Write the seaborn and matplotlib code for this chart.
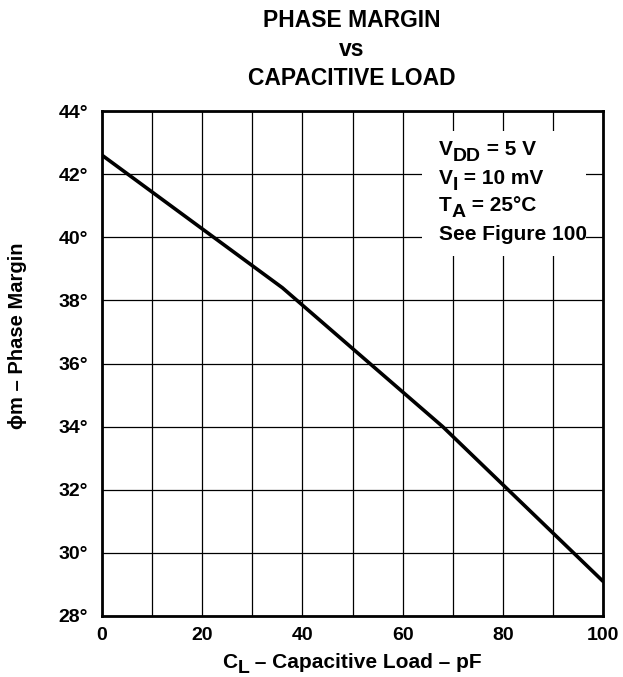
import matplotlib
matplotlib.use("Agg")
import matplotlib.pyplot as plt
from matplotlib.patches import Rectangle
import seaborn as sns
import pandas as pd

# Phase margin vs capacitive load curve (piecewise)
cap_load_pf = [0, 36, 68, 100]
phase_margin_deg = [42.6, 38.4, 34.0, 29.1]

x_ticks = [0, 20, 40, 60, 80, 100]
y_ticks = [28, 30, 32, 34, 36, 38, 40, 42, 44]

title_lines = ["PHASE MARGIN", "vs", "CAPACITIVE LOAD"]

W, H = 623, 677

sns.set_theme(style="white")
plt.rcParams["font.family"] = ["Liberation Sans", "DejaVu Sans"]
plt.rcParams["font.weight"] = "bold"
plt.rcParams["text.color"] = "black"
plt.rcParams["axes.labelcolor"] = "black"
plt.rcParams["xtick.color"] = "black"
plt.rcParams["ytick.color"] = "black"

df = pd.DataFrame({"C_L": cap_load_pf, "phase": phase_margin_deg})

fig = plt.figure(figsize=(W / 100, H / 100), dpi=100)
ax = fig.add_axes([102 / W, 1 - 616 / H, (603 - 102) / W, (616 - 111) / H])

sns.lineplot(data=df, x="C_L", y="phase", ax=ax, color="black", linewidth=2.6, zorder=4)

ax.set_xlim(0, 100)
ax.set_ylim(28, 44)
ax.set_xticks(range(0, 101, 10))
ax.set_yticks(y_ticks)
ax.set_xticklabels([str(v) if v in x_ticks else "" for v in range(0, 101, 10)],
                   fontsize=14, fontweight="bold", color="black")
ax.set_yticklabels([f"{v}°" for v in y_ticks], fontsize=14, fontweight="bold",
                   color="black")
ax.tick_params(axis="x", length=0, pad=8, colors="black")
ax.tick_params(axis="y", length=0, pad=10, colors="black")
ax.grid(True, color="black", linewidth=0.9, zorder=1)
ax.set_xlabel("")
ax.set_ylabel("")
for s in ax.spines.values():
    s.set_visible(True)
    s.set_color("black")
    s.set_linewidth(2.0)
    s.set_zorder(6)

# white panel behind the test conditions
ax.add_patch(Rectangle((0.639, 0.713), 0.327, 0.247, transform=ax.transAxes,
                       facecolor="white", edgecolor="none", zorder=3))

renderer = fig.canvas.get_renderer()


def draw_runs(runs, x_px, y_px, ha="left"):
    """Place text runs side by side on a common baseline (pixel coords, y down).
    Each run is (text, baseline offset in px, font size)."""
    texts = []
    for s, dy, size in runs:
        texts.append(fig.text(0, 0, s, fontsize=size, fontweight="bold",
                              color="black", ha="left", va="baseline", zorder=7))
    widths = [t.get_window_extent(renderer).width for t in texts]
    x0 = x_px - sum(widths) / 2 if ha == "center" else x_px
    for t, w, (s, dy, size) in zip(texts, widths, runs):
        t.set_position((x0 / W, 1 - (y_px + dy) / H))
        x0 += w


# title
for line, base in zip(title_lines, [27, 56, 85]):
    draw_runs([(line, 0, 16.5)], 352, base, ha="center")

# x-axis label with subscript
draw_runs([("C", 0, 15), ("L", 5, 14), (" – Capacitive Load – pF", 0, 15)],
          352, 668, ha="center")

# y-axis label
fig.text(18 / W, 1 - 336 / H, "ϕm – Phase Margin", rotation=90, ha="center",
         va="center", fontsize=14.5, fontweight="bold", color="black")

# test conditions
sub = 6
draw_runs([("V", 0, 15), ("DD", sub, 14), (" = 5 V", 0, 15)], 439, 155)
draw_runs([("V", 0, 15), ("I", sub, 14), (" = 10 mV", 0, 15)], 439, 184)
draw_runs([("T", 0, 15), ("A", sub, 14), (" = 25°C", 0, 15)], 439, 211)
draw_runs([("See Figure 100", 0, 15)], 439, 240)

fig.savefig("out.png", dpi=100, facecolor="white")
